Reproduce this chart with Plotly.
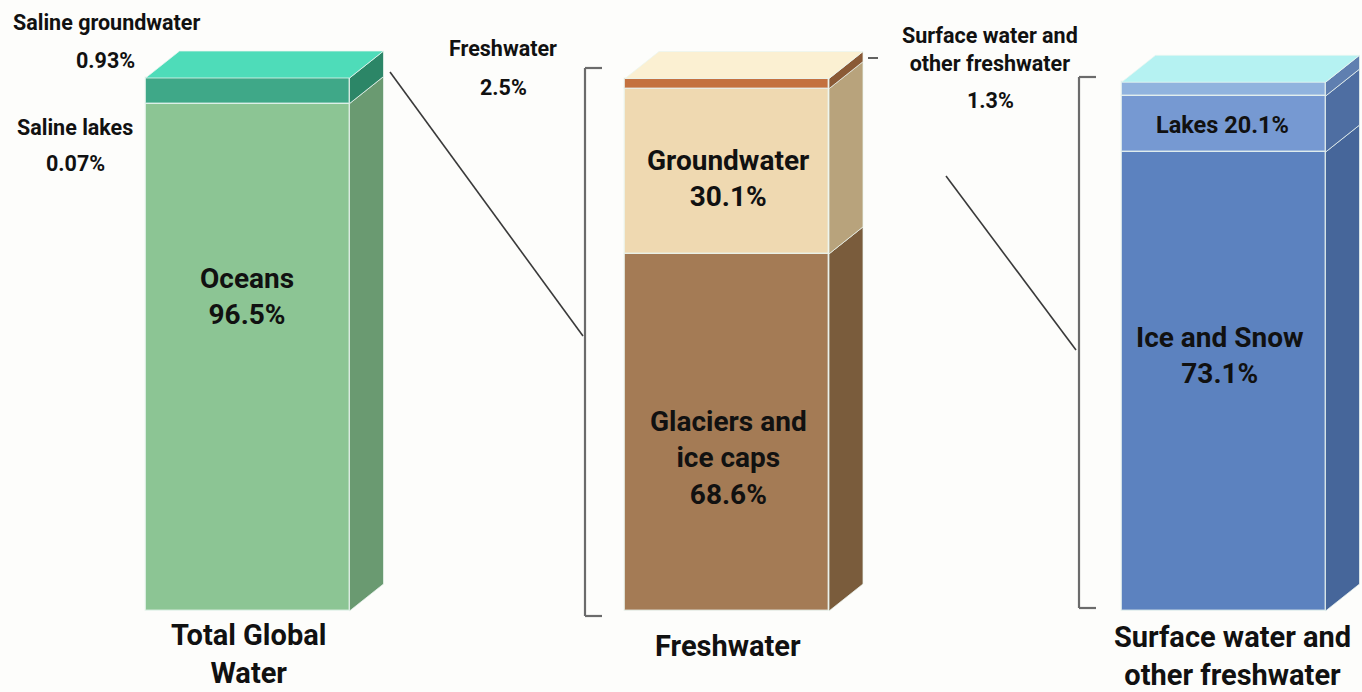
import plotly.graph_objects as go

# ---------------- data ----------------
bar_titles = ["Total Global<br>Water", "Freshwater", "Surface water and<br>other freshwater"]

# drawn segment heights, in % of each bar's height, bottom -> top
global_names = ["Oceans", "Saline groundwater and saline lakes"]
global_heights = [95.2, 4.8]
fresh_names = ["Glaciers and ice caps", "Groundwater", "Surface water and other freshwater"]
fresh_heights = [67.0, 31.0, 1.9]
surface_names = ["Ice and Snow", "Lakes", "Other surface water"]
surface_heights = [86.1, 10.5, 2.6]

# stated shares (label text)
oceans_pct = "96.5%"
saline_gw_pct = "0.93%"
saline_lakes_pct = "0.07%"
freshwater_pct = "2.5%"
groundwater_pct = "30.1%"
glaciers_pct = "68.6%"
surface_pct = "1.3%"
lakes_pct = "20.1%"
ice_snow_pct = "73.1%"

# ---------------- style / layout ----------------
W, H = 1362, 692
BASE_PX = 611.0          # pixel row of the bars' bottom
PPU = 5.33               # pixels per % unit
def yv(py):              # pixel row -> axis value (layout helper)
    return (BASE_PX - py) / PPU

bar_x = [247.5, 727.0, 1223.5]
half_w = 102.0
depth_x = 34.0
depth_y = 27.0 / PPU

front_colors = [["#8cc594", "#3fa888"],
                ["#a47b55", "#efd9b1", "#c4713f"],
                ["#5c82bf", "#7699d2", "#90b3de"]]
side_colors = [["#6a9a71", "#2c8667"],
               ["#7a5c3c", "#b8a37c", "#8a5a36"],
               ["#46669a", "#4e6ea2", "#5f7fb0"]]
top_colors = ["#4edcb9", "#fbf0d2", "#b5f2f2"]

FONT = "Roboto, Liberation Sans, sans-serif"
EDGE = "rgba(235,245,240,0.75)"

fig = go.Figure()

all_heights = [global_heights, fresh_heights, surface_heights]
all_names = [global_names, fresh_names, surface_names]
for i, (heights, names) in enumerate(zip(all_heights, all_names)):
    cx = bar_x[i]
    xr = cx + half_w
    xl = cx - half_w
    base = 0.0
    for j, h in enumerate(heights):
        # side face of the segment
        fig.add_trace(go.Scatter(
            x=[xr, xr + depth_x, xr + depth_x, xr, xr],
            y=[base, base + depth_y, base + h + depth_y, base + h, base],
            mode="lines", fill="toself", fillcolor=side_colors[i][j],
            line=dict(color=EDGE, width=1), hoverinfo="skip", showlegend=False))
        # front face (the bar itself)
        fig.add_trace(go.Bar(
            x=[cx], y=[h], base=[base], width=[2 * half_w], name=names[j],
            marker=dict(color=front_colors[i][j], line=dict(color=EDGE, width=1.5)),
            showlegend=False, hovertemplate=names[j] + "<extra></extra>"))
        base += h
    # top face
    fig.add_trace(go.Scatter(
        x=[xl, xl + depth_x, xr + depth_x, xr, xl],
        y=[base, base + depth_y, base + depth_y, base, base],
        mode="lines", fill="toself", fillcolor=top_colors[i],
        line=dict(color=EDGE, width=1), hoverinfo="skip", showlegend=False))

# brackets and connectors
GRAY = "#6b6b6b"
shapes = []
def bracket(x, y0, y1, tick):
    return [dict(type="line", x0=x, x1=x, y0=y0, y1=y1),
            dict(type="line", x0=x, x1=x + tick, y0=y0, y1=y0),
            dict(type="line", x0=x, x1=x + tick, y0=y1, y1=y1)]
for s in bracket(585, yv(616), yv(68), 17) + bracket(1079, yv(608), yv(77), 17):
    s.update(xref="x", yref="y", line=dict(color=GRAY, width=2.2))
    shapes.append(s)
for (x0, p0, x1, p1) in [(390, 72, 583, 336), (868, 58, 878, 58), (946, 176, 1076, 350)]:
    shapes.append(dict(type="line", xref="x", yref="y", x0=x0, y0=yv(p0), x1=x1, y1=yv(p1),
                       line=dict(color="#3a3a3a", width=1.6)))

# annotations
ann = []
def lab(text, x, py, size):
    ann.append(dict(text="<b>" + text + "</b>", x=x, y=yv(py), xref="x", yref="y",
                    showarrow=False, font=dict(family=FONT, size=size, color="#111111"),
                    xanchor="center", yanchor="middle", align="center"))

SMALL = 21.5
lab("Saline groundwater", 106, 22, SMALL)
lab(saline_gw_pct, 105, 60, SMALL)
lab("Saline lakes", 75, 127, SMALL)
lab(saline_lakes_pct, 75, 163, SMALL)
lab("Oceans<br>" + oceans_pct, 247, 296, 28)
lab("Freshwater", 503, 48, SMALL)
lab(freshwater_pct, 503, 87, SMALL)
lab("Groundwater<br>" + groundwater_pct, 728, 178, 28)
lab("Glaciers and<br>ice caps<br>" + glaciers_pct, 728, 458, 28)
lab("Surface water and<br>other freshwater", 990, 49, SMALL)
lab(surface_pct, 990, 100, SMALL)
lab("Lakes " + lakes_pct, 1222, 125, 23.5)
lab("Ice and Snow<br>" + ice_snow_pct, 1220, 355, 28)
lab(bar_titles[0], 248, 654, 29)
lab(bar_titles[1], 728, 646, 29)
lab(bar_titles[2], 1232, 656, 29)

fig.update_layout(
    width=W, height=H, margin=dict(l=0, r=0, t=0, b=0),
    paper_bgcolor="#fdfdfb", plot_bgcolor="#fdfdfb",
    barmode="overlay", bargap=0,
    xaxis=dict(range=[0, W], visible=False, fixedrange=True),
    yaxis=dict(range=[yv(H), yv(0)], visible=False, fixedrange=True),
    shapes=shapes, annotations=ann, showlegend=False,
)

fig.write_html("out.html", config={"displayModeBar": False},
               post_script="document.body.style.margin='0';document.body.style.overflow='hidden';")
